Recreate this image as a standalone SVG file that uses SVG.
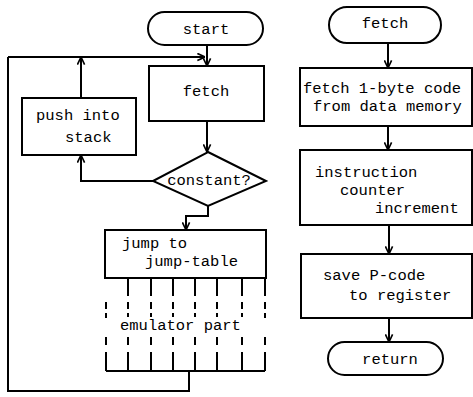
<svg xmlns="http://www.w3.org/2000/svg" width="473" height="397" viewBox="0 0 473 397">
<style>
.b{fill:#fff;stroke:#000;stroke-width:2}
.l{fill:none;stroke:#000;stroke-width:2}
.t{font-family:"Liberation Mono","DejaVu Sans Mono",monospace;font-size:15.5px;fill:#000}
.m{text-anchor:middle}
</style>
<defs>
<marker id="a" viewBox="0 0 10 10" refX="9.5" refY="5" markerWidth="9" markerHeight="9" markerUnits="userSpaceOnUse" orient="auto">
<path d="M1,1 L9.5,5 L1,9" fill="none" stroke="#000" stroke-width="1.8"/>
</marker>
</defs>
<rect width="473" height="397" fill="#fff"/>
<g id="connectors">
<path class="l" d="M207,45 V66" marker-end="url(#a)"/>
<path class="l" d="M8,57 H205" marker-end="url(#a)"/>
<path class="l" d="M81,98 V57" marker-end="url(#a)"/>
<path class="l" d="M207,121 V152" marker-end="url(#a)"/>
<path class="l" d="M153,181 H81 V155" marker-end="url(#a)"/>
<path class="l" d="M208,206 V216 H186 V230" marker-end="url(#a)"/>
<path class="l" d="M189,371 V391 H8 V57"/>
<path class="l" d="M388,43 V68" marker-end="url(#a)"/>
<path class="l" d="M388,126 V150" marker-end="url(#a)"/>
<path class="l" d="M389,225 V254" marker-end="url(#a)"/>
<path class="l" d="M389,318 V342" marker-end="url(#a)"/>
</g>
<g id="start">
<rect class="b" x="148" y="12" width="115" height="33" rx="16.5"/>
<text class="t m" x="206" y="34">start</text>
</g>
<g id="fetch">
<rect class="b" x="149" y="66" width="115" height="55"/>
<text class="t m" x="206" y="96">fetch</text>
</g>
<g id="push">
<rect class="b" x="22" y="98" width="114" height="57"/>
<text class="t" x="36" y="120">push into</text>
<text class="t" x="65" y="142">stack</text>
</g>
<g id="constant">
<polygon class="b" points="208,152 266,181 208,206 153,181"/>
<text class="t m" x="209" y="185">constant?</text>
</g>
<g id="jump">
<rect class="b" x="105" y="230" width="161" height="48"/>
<text class="t" x="122" y="248">jump to</text>
<text class="t" x="145" y="266">jump-table</text>
</g>
<g id="emulator">
<path class="l" d="M106,371 H265"/>
<path class="l" d="M128,278 V296 M151,278 V296 M173,278 V296 M195,278 V296 M217,278 V296 M242,278 V296 M265,278 V296"/>
<path class="l" d="M106,302 V309 M128,302 V309 M151,302 V309 M173,302 V309 M195,302 V309 M217,302 V309 M242,302 V309 M265,302 V309"/>
<path class="l" d="M106,313 V318 M128,313 V317 M151,313 V317 M173,313 V317 M195,313 V317 M217,313 V317 M242,313 V317 M265,313 V318"/>
<path class="l" d="M106,337 V345 M128,337 V345 M151,337 V345 M173,337 V345 M195,337 V345 M217,337 V345 M242,337 V345 M265,337 V345"/>
<path class="l" d="M106,352 V371 M128,352 V371 M151,352 V371 M173,352 V371 M195,352 V371 M217,352 V371 M242,352 V371 M265,352 V371"/>
<text class="t" x="120" y="330">emulator part</text>
</g>
<g id="fetch2">
<rect class="b" x="329" y="7" width="112" height="36" rx="18"/>
<text class="t m" x="385" y="28">fetch</text>
</g>
<g id="fetchcode">
<rect class="b" x="300" y="68" width="172" height="58"/>
<text class="t" x="303" y="93">fetch 1-byte code</text>
<text class="t" x="313" y="111">from data memory</text>
</g>
<g id="counter">
<rect class="b" x="300" y="150" width="172" height="75"/>
<text class="t" x="315" y="177">instruction</text>
<text class="t" x="340" y="195">counter</text>
<text class="t" x="375" y="213">increment</text>
</g>
<g id="save">
<rect class="b" x="301" y="254" width="171" height="64"/>
<text class="t" x="323" y="280">save P-code</text>
<text class="t" x="349" y="300">to register</text>
</g>
<g id="return">
<rect class="b" x="328" y="342" width="115" height="33" rx="16.5"/>
<text class="t m" x="390" y="364">return</text>
</g>
</svg>
